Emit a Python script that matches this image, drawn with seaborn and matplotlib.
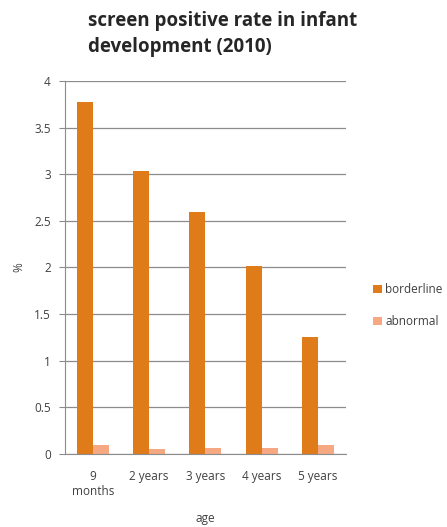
import pandas as pd
import seaborn as sns
import matplotlib.pyplot as plt

ages = ['9\nmonths', '2 years', '3 years', '4 years', '5 years']
borderline = [3.78, 3.04, 2.60, 2.02, 1.25]
abnormal = [0.09, 0.05, 0.06, 0.06, 0.09]

if __name__ == '__main__':
    data = pd.DataFrame({
        'age': ages * 2,
        'value': borderline + abnormal,
        'type': ['borderline'] * 5 + ['abnormal'] * 5,
    })

    sns.set_style('white')
    plt.rcParams['font.family'] = ['Open Sans', 'DejaVu Sans']

    fig = plt.figure(figsize=(4.47, 5.27), dpi=100)
    ax = fig.add_axes([0.145, 0.139, 0.629, 0.707])
    sns.barplot(x='age', y='value', hue='type', data=data, ax=ax,
                palette=['#E07B1A', '#F5A882'], width=0.57, saturation=1,
                linewidth=0)

    ax.set_ylim(0, 4)
    ax.set_yticks([0, 0.5, 1, 1.5, 2, 2.5, 3, 3.5, 4])
    ax.set_yticklabels(['0', '0.5', '1', '1.5', '2', '2.5', '3', '3.5', '4'])
    ax.yaxis.grid(True, color='#8c8c8c', linewidth=0.9)
    ax.set_axisbelow(True)
    for s in ['top', 'right']:
        ax.spines[s].set_visible(False)
    ax.spines['left'].set_color('#8c8c8c')
    ax.spines['bottom'].set_color('#8c8c8c')
    ax.tick_params(axis='y', length=4, color='#8c8c8c', labelsize=8.5,
                   labelcolor='#404040', pad=6, left=True)
    ax.tick_params(axis='x', length=0, labelsize=8.5, labelcolor='#404040',
                   pad=12)
    ax.set_xlabel('age', fontsize=8.5, color='#404040', labelpad=10)
    ax.set_ylabel('%', fontsize=8.5, color='#404040', labelpad=6)

    ax.legend(loc='center left', bbox_to_anchor=(1.06, 0.397), frameon=False,
              fontsize=8.5, labelcolor='#404040', handlelength=0.7,
              handleheight=0.7, handletextpad=0.3, labelspacing=1.6)

    fig.text(0.197, 0.935, 'screen positive rate in infant\ndevelopment (2010)',
             fontsize=13.5, fontweight='bold', color='#262626', ha='left',
             va='center', linespacing=1.4)

    plt.savefig('out.png', dpi=100)
